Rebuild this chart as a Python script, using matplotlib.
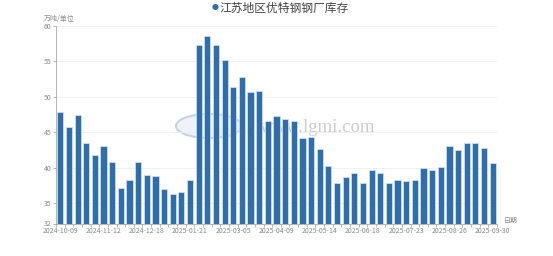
import matplotlib
matplotlib.use("Agg")
import matplotlib.pyplot as plt
import matplotlib.transforms as mtransforms
from matplotlib.patches import Ellipse

plt.rcParams['font.family'] = ['Noto Sans CJK SC', 'DejaVu Sans']

title = "江苏地区优特钢钢厂库存"
y_unit = "万吨/单位"
x_unit = "日期"

dates = [
    "2024-10-09", "2024-10-16", "2024-10-23", "2024-10-30", "2024-11-06",
    "2024-11-12", "2024-11-20", "2024-11-27", "2024-12-04", "2024-12-11",
    "2024-12-18", "2024-12-25", "2025-01-02", "2025-01-08", "2025-01-15",
    "2025-01-21", "2025-02-05", "2025-02-12", "2025-02-19", "2025-02-26",
    "2025-03-05", "2025-03-12", "2025-03-19", "2025-03-26", "2025-04-02",
    "2025-04-09", "2025-04-16", "2025-04-23", "2025-04-30", "2025-05-07",
    "2025-05-14", "2025-05-21", "2025-05-28", "2025-06-04", "2025-06-11",
    "2025-06-18", "2025-06-25", "2025-07-02", "2025-07-09", "2025-07-16",
    "2025-07-23", "2025-07-30", "2025-08-06", "2025-08-13", "2025-08-20",
    "2025-08-26", "2025-09-03", "2025-09-10", "2025-09-17", "2025-09-24",
    "2025-09-30",
]

values = [
    47.9, 45.7, 47.4, 43.5, 41.8, 43.1, 40.75, 37.1, 38.2, 40.85,
    39.0, 38.8, 37.0, 36.3, 36.5, 38.2, 57.3, 58.5, 57.3, 55.1,
    51.3, 52.75, 50.6, 50.8, 46.6, 47.2, 46.9, 46.5, 44.1, 44.3,
    42.6, 40.2, 37.8, 38.6, 39.25, 37.85, 39.7, 39.25, 37.85, 38.2,
    38.1, 38.3, 39.9, 39.7, 40.05, 43.0, 42.5, 43.5, 43.5, 42.8,
    40.65,
]

y_ticks = [32, 35, 40, 45, 50, 55, 60]
label_step = 5

W, H = 553, 256
fig = plt.figure(figsize=(W / 100, H / 100), dpi=100)
ax = fig.add_axes([56 / W, 31.7 / H, 441 / W, 198.6 / H])
ax.patch.set_alpha(0)

x = list(range(len(values)))
ax.bar(x, values, width=0.72, color="#2f6eab", edgecolor="#d6e4f2",
       linewidth=0.5, zorder=3)

ax.set_xlim(-0.5, len(values) - 0.5)
ax.set_ylim(32, 60)
ax.set_yticks(y_ticks)
ax.set_yticklabels([str(t) for t in y_ticks])
ax.set_xticks(x[::label_step])
ax.set_xticklabels(dates[::label_step])
ax.set_xticks([i - 0.5 for i in range(len(values) + 1)], minor=True)

ax.grid(axis="y", color="#eeeeee", linewidth=0.6, zorder=0)
ax.tick_params(axis="both", labelsize=5, colors="#999999", length=2, width=0.5, pad=1.5)
ax.tick_params(axis="x", which="major", length=0, pad=2.0)
ax.tick_params(axis="x", which="minor", length=2, width=0.5, color="#999999")
for lab in ax.get_xticklabels() + ax.get_yticklabels():
    lab.set_color("#888888")

# lift the lowest y label slightly so it clears the first date label
low = ax.get_yticklabels()[0]
low.set_transform(low.get_transform() + mtransforms.ScaledTranslation(0, 1.5 / 100, fig.dpi_scale_trans))

for s in ["top", "right"]:
    ax.spines[s].set_visible(False)
ax.spines["left"].set_color("#aaaaaa")
ax.spines["bottom"].set_color("#aaaaaa")
ax.spines["left"].set_linewidth(0.6)
ax.spines["bottom"].set_linewidth(0.6)

# watermark (behind bars)
ax.text(318 / W, 1 - 128 / H, "www.lgmi.com", fontsize=13.5, color="#cccccc",
        family="Liberation Serif", ha="center", va="center", zorder=1,
        transform=fig.transFigure)
wm = Ellipse((209 / W, 1 - 126 / H), 66 / W, 24 / H, transform=fig.transFigure,
             facecolor="#eef3f9", edgecolor="#c3d4e8", linewidth=1.5, zorder=1)
ax.add_patch(wm)

# unit labels
fig.text(44 / W, 1 - 19 / H, y_unit, fontsize=5, color="#888888", ha="left", va="center")
fig.text(504 / W, 1 - 221 / H, x_unit, fontsize=5, color="#888888", ha="left", va="center")

# title with legend dot
fig.text(215 / W, 1 - 8 / H, "●", fontsize=5, color="#2f6eab", ha="center", va="center")
fig.text(219 / W, 1 - 8 / H, title, fontsize=8.5, color="#444444", ha="left", va="center")

fig.savefig("out.png", dpi=100)
